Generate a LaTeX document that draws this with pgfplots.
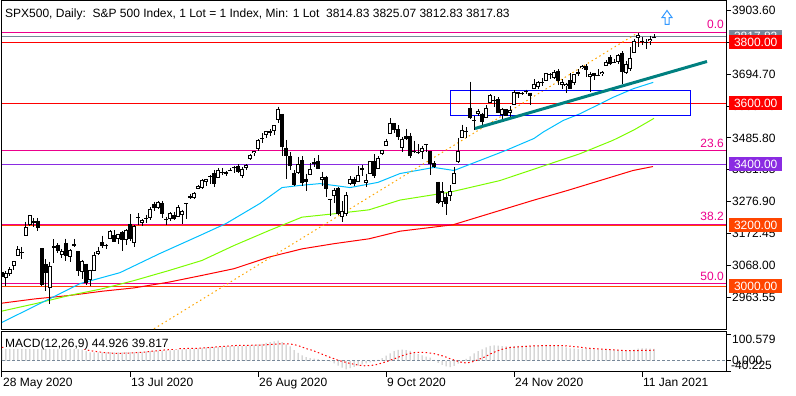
\documentclass[border=0pt]{standalone}
\usepackage{pgfplots}
\pgfplotsset{compat=1.18}
\usepackage{pgfplotstable}
\usepackage{fontspec}
\setmainfont{Liberation Sans}
\definecolor{mtgray}{RGB}{119,136,153}
\definecolor{silverbar}{RGB}{192,192,192}
\definecolor{ored}{RGB}{255,69,0}
\definecolor{bviolet}{RGB}{138,43,226}
\definecolor{dsky}{RGB}{0,191,255}
\definecolor{lgreen}{RGB}{124,252,0}
\definecolor{mteal}{RGB}{0,128,128}
\definecolor{mtorange}{RGB}{255,165,0}
\definecolor{arrowblue}{RGB}{51,153,255}

\pgfplotstableread{
i O H L C
0 3046.61 3068.67 3023.40 3029.73
1 3025.17 3049.17 2998.61 3044.31
2 3038.78 3062.18 3031.54 3055.73
3 3064.78 3081.07 3051.64 3080.82
4 3098.90 3130.94 3098.90 3122.87
5 3111.56 3128.91 3090.41 3112.35
6 3163.84 3211.72 3163.84 3193.93
7 3199.92 3233.13 3196.00 3232.39
8 3213.32 3222.71 3193.11 3207.18
9 3213.42 3223.27 3181.49 3190.14
10 3123.53 3123.53 2999.49 3002.10
11 3071.04 3088.42 2984.47 3041.31
12 2993.76 3079.76 2940.00 3066.59
13 3131.00 3153.45 3076.06 3124.74
14 3136.13 3141.16 3108.03 3113.49
15 3101.64 3120.00 3093.51 3115.34
16 3140.29 3155.53 3083.11 3097.74
17 3094.42 3120.92 3079.39 3117.86
18 3138.70 3154.90 3127.12 3131.29
19 3114.40 3115.01 3032.13 3050.33
20 3046.60 3086.25 3024.01 3083.76
21 3073.20 3073.73 3004.63 3009.05
22 3018.59 3053.89 2999.74 3053.24
23 3050.20 3111.51 3047.83 3100.29
24 3105.92 3128.44 3101.17 3115.86
25 3143.64 3165.81 3124.52 3130.01
26 3130.00 3138.00 3122.00 3134.00
27 3155.29 3182.59 3155.29 3179.72
28 3166.44 3184.15 3142.93 3145.32
29 3153.07 3171.80 3136.53 3169.94
30 3176.17 3179.78 3115.70 3152.05
31 3152.47 3186.82 3136.22 3185.04
32 3205.08 3235.32 3149.43 3155.22
33 3141.11 3200.95 3127.66 3197.52
34 3225.98 3238.28 3200.76 3226.56
35 3208.36 3220.39 3198.59 3215.57
36 3224.21 3233.52 3205.65 3224.73
37 3224.29 3258.61 3215.16 3251.84
38 3268.52 3277.29 3247.77 3257.30
39 3254.86 3279.32 3253.10 3276.02
40 3271.64 3279.99 3222.66 3235.66
41 3218.58 3227.26 3200.05 3215.63
42 3219.84 3241.43 3214.25 3239.41
43 3234.27 3243.72 3216.17 3218.44
44 3227.22 3264.74 3227.22 3258.44
45 3231.76 3250.92 3204.13 3246.22
46 3270.45 3272.17 3220.26 3271.12
47 3288.26 3302.73 3284.53 3294.61
48 3289.92 3306.84 3286.37 3306.51
49 3317.37 3330.77 3317.37 3327.77
50 3323.17 3351.03 3318.14 3349.16
51 3340.05 3352.54 3328.72 3351.28
52 3356.04 3363.29 3335.44 3360.47
53 3370.34 3381.01 3326.44 3333.69
54 3355.46 3387.89 3355.46 3380.35
55 3372.95 3387.24 3363.35 3373.43
56 3368.66 3378.51 3361.64 3372.85
57 3380.86 3387.59 3379.22 3381.99
58 3387.04 3395.06 3370.15 3389.78
59 3392.51 3399.54 3369.66 3374.85
60 3360.48 3390.80 3354.69 3385.51
61 3386.01 3399.96 3379.31 3397.16
62 3418.09 3432.09 3413.13 3431.28
63 3435.95 3444.21 3425.84 3443.62
64 3449.97 3481.07 3444.15 3478.73
65 3485.14 3501.38 3468.35 3484.55
66 3494.69 3509.23 3484.32 3508.01
67 3509.73 3514.77 3493.25 3500.31
68 3507.44 3528.03 3494.60 3526.65
69 3543.76 3588.11 3535.23 3580.84
70 3564.74 3564.85 3427.41 3455.06
71 3453.60 3479.15 3349.63 3426.96
72 3427.00 3440.00 3380.00 3395.00
73 3371.88 3379.97 3329.27 3331.84
74 3369.82 3424.77 3366.84 3398.96
75 3412.56 3425.55 3329.25 3339.19
76 3352.70 3368.95 3310.47 3340.97
77 3363.56 3402.93 3363.56 3383.54
78 3407.73 3419.48 3389.25 3401.20
79 3411.23 3428.92 3384.45 3385.49
80 3346.86 3375.17 3328.82 3357.01
81 3357.38 3362.27 3292.40 3319.47
82 3285.57 3285.57 3229.10 3281.06
83 3295.75 3320.31 3270.95 3315.57
84 3320.11 3323.35 3232.57 3236.92
85 3226.14 3278.70 3209.45 3246.59
86 3236.66 3306.88 3228.44 3298.46
87 3333.90 3360.74 3332.91 3351.60
88 3350.92 3357.92 3327.54 3335.47
89 3341.21 3393.56 3340.47 3363.00
90 3385.87 3397.18 3361.39 3380.80
91 3338.94 3369.10 3323.69 3348.42
92 3367.27 3409.57 3367.27 3408.60
93 3408.74 3431.56 3354.54 3360.97
94 3384.56 3426.26 3384.56 3419.44
95 3434.28 3447.28 3428.15 3446.83
96 3459.67 3482.34 3458.07 3477.14
97 3500.02 3549.85 3499.61 3534.22
98 3534.01 3534.01 3500.86 3511.93
99 3515.47 3527.94 3480.55 3488.67
100 3453.72 3489.08 3440.89 3483.34
101 3493.50 3515.76 3480.45 3483.81
102 3493.66 3502.42 3419.93 3426.92
103 3439.38 3476.93 3435.65 3443.12
104 3439.91 3464.86 3433.06 3435.56
105 3438.50 3460.53 3415.34 3453.49
106 3464.90 3466.46 3440.45 3465.39
107 3441.42 3441.42 3364.86 3400.97
108 3403.15 3409.51 3388.71 3390.68
109 3342.48 3342.48 3268.89 3271.03
110 3277.17 3341.05 3259.82 3310.11
111 3293.59 3304.93 3233.94 3269.96
112 3296.20 3330.14 3279.74 3310.24
113 3336.25 3389.49 3336.25 3369.16
114 3406.46 3486.25 3405.17 3443.44
115 3485.74 3529.05 3485.74 3510.45
116 3508.34 3521.58 3484.34 3509.44
117 3583.04 3670.00 3547.48 3550.50
118 3543.26 3557.22 3511.91 3545.53
119 3563.22 3581.16 3557.00 3572.66
120 3562.67 3569.02 3518.58 3537.01
121 3552.57 3593.66 3552.57 3585.15
122 3600.16 3628.51 3600.16 3626.91
123 3610.31 3623.11 3588.68 3609.53
124 3612.09 3619.09 3567.33 3567.79
125 3559.41 3585.22 3543.84 3581.87
126 3579.31 3581.23 3556.85 3557.54
127 3566.82 3589.81 3552.77 3577.59
128 3594.52 3642.31 3594.52 3635.41
129 3635.50 3635.50 3617.76 3629.65
130 3630.00 3638.00 3625.00 3634.00
131 3638.55 3644.31 3629.33 3638.35
132 3634.18 3634.18 3594.39 3621.63
133 3645.87 3678.45 3645.87 3662.45
134 3653.78 3670.96 3644.84 3669.01
135 3668.28 3682.73 3657.17 3666.72
136 3670.94 3699.20 3670.94 3699.12
137 3694.73 3697.41 3678.88 3691.96
138 3683.05 3708.45 3678.83 3702.25
139 3705.98 3712.39 3660.54 3672.82
140 3659.13 3678.49 3645.18 3668.10
141 3656.08 3665.91 3633.40 3663.46
142 3675.27 3697.61 3645.84 3647.49
143 3666.41 3695.29 3659.62 3694.62
144 3696.25 3711.27 3688.57 3701.17
145 3713.65 3725.12 3710.87 3722.48
146 3722.39 3726.70 3685.84 3709.41
147 3684.28 3702.90 3636.48 3694.92
148 3698.08 3698.26 3676.16 3687.26
149 3693.42 3711.24 3689.28 3690.01
150 3694.03 3703.82 3689.32 3703.06
151 3723.03 3740.51 3723.03 3735.36
152 3750.01 3756.12 3723.31 3727.04
153 3736.19 3744.63 3730.21 3732.04
154 3733.27 3760.20 3726.88 3756.07
155 3764.61 3769.99 3662.71 3700.65
156 3698.02 3737.83 3695.07 3726.86
157 3712.20 3783.04 3705.34 3748.14
158 3764.71 3811.55 3764.71 3803.79
159 3815.05 3830.69 3783.60 3824.68
160 3803.14 3817.86 3789.02 3799.61
161 3801.62 3810.78 3776.51 3801.19
162 3802.23 3820.96 3791.50 3809.84
163 3814.83 3825.07 3812.83 3817.83
}\candles

\pgfplotstableread{
i m s
0 42 50
1 44 50
2 47 50
3 52 50
4 58 51
5 64 53
6 75 56
7 88 61
8 97 66
9 100.6 71
10 88 74
11 80 75
12 74 75
13 70 74
14 66 72
15 62 70
16 57 67
17 53 63
18 50 59
19 45 54
20 42 48
21 36 42
22 32 38
23 32 36
24 32 34
25 32 32
26 32 30
27 33 29
28 32 28
29 32 28
30 32 28
31 33 29
32 33 29
33 33 30
34 34 31
35 34 32
36 35 33
37 36 35
38 37 37
39 38 38
40 38 40
41 38 41
42 39 42
43 40 44
44 42 45
45 43 46
46 44 46
47 45 47
48 46 47
49 47 47
50 49 48
51 50 49
52 51 50
53 51 51
54 52 53
55 53 54
56 54 55
57 55 56
58 56 57
59 56 58
60 56 58
61 57 58
62 58 58
63 60 59
64 62 59
65 64 59
66 67 60
67 70 61
68 73 62
69 76 63
70 70 64
71 62 64
72 54 63
73 40 61
74 30 57
75 20 52
76 14 46
77 10 42
78 8 37
79 6 31
80 3 25
81 1 19
82 -2 13
83 -10 8
84 -18 2
85 -26 -2
86 -32 -6
87 -28 -10
88 -23 -13
89 -18 -16
90 -13 -18
91 -10 -19
92 -6 -18
93 -3 -16
94 3 -13
95 10 -8
96 19 -4
97 28 2
98 36 7
99 41 13
100 42 19
101 40 24
102 37 28
103 31 31
104 25 32
105 20 32
106 16 31
107 12 29
108 3 27
109 -8 23
110 -15 19
111 -21 14
112 -24 8
113 -19 3
114 -11 -2
115 -2 -6
116 7 -8
117 17 -6
118 28 -2
119 36 4
120 43 10
121 50 17
122 56 25
123 58 32
124 57 38
125 55 43
126 54 47
127 53 50
128 55 51
129 56 52
130 57 53
131 57 54
132 56 55
133 57 56
134 58 56
135 59 57
136 60 57
137 60 57
138 59 57
139 57 57
140 54 57
141 50 56
142 47 55
143 46 53
144 45 52
145 45 50
146 45 48
147 44 47
148 43 46
149 43 45
150 42 44
151 42 43
152 42 42
153 41 41
154 41 40
155 38 39
156 37 38
157 38 38
158 42 38
159 46 38
160 47 39
161 47 39
162 46 39.5
163 44.926 39.817
}\macd

\begin{document}
\begin{tikzpicture}[x=1pt,y=1pt,font=\fontsize{12}{14}\selectfont]
\path (0,0) rectangle (796,-395);
\begin{axis}[
  name=main, scale only axis, width=724pt, height=329pt,
  at={(2pt,0pt)}, anchor=north west,
  xmin=0, xmax=181, ymin=2857.6, ymax=3936.4,
  xtick=\empty,
  ytick={2963.55,3068.00,3172.45,3276.90,3381.35,3485.80,3590.25,3694.70,3799.15,3903.60},
  scaled y ticks=false,
  ytick pos=right, yticklabel pos=right, tick align=outside, major tick length=5pt,
  every tick/.style={black, line width=1pt},
  axis line style={line width=1pt},
  yticklabel style={anchor=west, inner sep=0pt, xshift=1pt,
    /pgf/number format/.cd, fixed, fixed zerofill, precision=2, assume math mode=true, 1000 sep={}},
]
% horizontal levels
\addplot[red, line width=1pt] coordinates {(0,3800) (181,3800)};
\addplot[red, line width=1pt] coordinates {(0,3600) (181,3600)};
\addplot[bviolet, line width=1pt] coordinates {(0,3400) (181,3400)};
\addplot[ored, line width=1pt] coordinates {(0,3200) (181,3200)};
\addplot[ored, line width=1pt] coordinates {(0,3000) (181,3000)};
\addplot[mtgray, line width=1pt] coordinates {(0,3818.5) (181,3818.5)};
% fibonacci levels
\addplot[magenta, line width=1pt] coordinates {(0,3832.5) (181,3832.5)};
\addplot[magenta, line width=1pt] coordinates {(0,3443) (181,3443)};
\addplot[magenta, line width=1.3pt] coordinates {(0,3202.5) (181,3202.5)};
\addplot[magenta, line width=1pt] coordinates {(0,3007.5) (181,3007.5)};
% moving averages
\addplot[red, line width=1pt] coordinates {(0,2944) (8.25,2958) (16.75,2969) (25,2983) (33,2994) (41.75,3013) (50,3035) (58,3057) (66.75,3095) (75,3122) (83,3139) (91.75,3155) (99.5,3180) (112.75,3201) (116.25,3215) (132.75,3281) (141.25,3313) (149.5,3346) (157.75,3379) (162.75,3392)};
\addplot[lgreen, line width=1pt] coordinates {(0,2918) (8.25,2942) (16.75,2969) (25,2991) (33,3018) (41.75,3051) (50,3084) (58,3133) (66.75,3182) (75,3226) (83,3237) (91.75,3250) (99.5,3282) (112,3308) (124.5,3346) (134.5,3390) (144.5,3434) (152.75,3478) (158,3512) (163,3550)};
\addplot[dsky, line width=1pt] coordinates {(0,2881) (12,2959) (19.5,3008) (29.5,3044) (39.5,3107) (49.5,3166) (56,3205) (64.5,3271) (70,3323) (74.5,3330) (79.5,3336) (83,3330) (87,3323) (94,3340) (99.5,3369) (108,3389) (113,3379) (119.5,3412) (126,3445) (133,3484) (135.3,3505) (140.3,3543) (144.5,3565) (152.8,3619) (157.8,3647) (162.8,3668)};
% fibonacci trend line
\addplot[mtorange, line width=1pt, dash pattern=on 1.5pt off 3pt] coordinates {(38,2860) (159,3831)};
% rectangle
\addplot[blue, line width=1pt] coordinates {(112,3558.3) (172.2,3558.3) (172.2,3641.3) (112,3641.3) (112,3558.3)};
% candles: wicks
\addplot[draw=none, mark=none, forget plot,
  error bars/.cd, y dir=both, y explicit, error mark=none,
  error bar style={draw=black, solid, line width=1pt}]
  table[x=i, y=H, y error plus expr=0, y error minus expr={\thisrow{H}-\thisrow{L}}] {\candles};
% bodies (black)
\addplot[draw=none, mark=none, forget plot,
  error bars/.cd, y dir=both, y explicit, error mark=none,
  error bar style={draw=black, solid, line width=3.2pt}]
  table[x=i, y expr={max(\thisrow{O},\thisrow{C})}, y error plus expr=0,
        y error minus expr={max(abs(\thisrow{C}-\thisrow{O}),3.3)}] {\candles};
% bull bodies white inside
\addplot[draw=none, mark=none, forget plot,
  restrict expr to domain={\thisrow{C}-\thisrow{O}}{6.7:100000},
  error bars/.cd, y dir=both, y explicit, error mark=none,
  error bar style={draw=white, solid, line width=1.2pt}]
  table[x=i, y expr={\thisrow{C}-3.3}, y error plus expr=0,
        y error minus expr={\thisrow{C}-\thisrow{O}-6.6}] {\candles};
% teal trend line
\addplot[mteal, line width=3pt] coordinates {(118.25,3516.7) (176.25,3736.4)};
% up arrow
\draw[arrowblue, fill=white, line width=1pt, line join=miter]
  (axis cs:166.25,3903.6) -- (axis cs:167.5,3880.6) -- (axis cs:166.75,3880.6) -- (axis cs:166.75,3858)
  -- (axis cs:165.75,3858) -- (axis cs:165.75,3880.6) -- (axis cs:165,3880.6) -- cycle;
% fib labels
\node[anchor=base east, inner sep=0pt, text=magenta] at (axis cs:181,3832.5) [xshift=-2pt, yshift=4pt] {0.0};
\node[anchor=base east, inner sep=0pt, text=magenta] at (axis cs:181,3443) [xshift=-2pt, yshift=3.5pt] {23.6};
\node[anchor=base east, inner sep=0pt, text=magenta] at (axis cs:181,3202.5) [xshift=-2pt, yshift=3.5pt] {38.2};
\node[anchor=base east, inner sep=0pt, text=magenta] at (axis cs:181,3007.5) [xshift=-2pt, yshift=3.5pt] {50.0};
\coordinate (r3818) at (axis cs:181,3818.5);
\coordinate (r3800) at (axis cs:181,3800);
\coordinate (r3600) at (axis cs:181,3600);
\coordinate (r3400) at (axis cs:181,3400);
\coordinate (r3200) at (axis cs:181,3200);
\coordinate (r3000) at (axis cs:181,3000);
\end{axis}

\tikzset{pbox/.style={anchor=west, inner sep=0pt, minimum width=53pt, minimum height=13.3pt, text=white, xshift=3pt}}
\node[pbox, fill=mtgray] at (r3818) {3817.83};
\node[pbox, fill=red] at (r3800) {3800.00};
\node[pbox, fill=red] at (r3600) {3600.00};
\node[pbox, fill=bviolet] at (r3400) {3400.00};
\node[pbox, fill=ored] at (r3200) {3200.00};
\node[pbox, fill=ored] at (r3000) {3000.00};

\node[anchor=base west, inner sep=0pt] at (5,-16.7) {SPX500, Daily:\ \ S\&P 500 Index, 1 Lot = 1 Index, Min: 1 Lot\ \ 3814.83 3825.07 3812.83 3817.83};

\begin{axis}[
  name=macd, scale only axis, width=724pt, height=40pt,
  at={(2pt,-331pt)}, anchor=north west,
  xmin=0, xmax=181, ymin=-40.225, ymax=110.1,
  xtick={0,32,64,96,128,160},
  xticklabels={28 May 2020,13 Jul 2020,26 Aug 2020,9 Oct 2020,24 Nov 2020,11 Jan 2021},
  xtick pos=bottom, ytick pos=right,
  ytick={-40.225,0,100.579}, yticklabels={},
  tick align=outside, major tick length=5pt,
  every tick/.style={black, line width=1pt},
  axis line style={line width=1pt},
  xticklabel style={anchor=north west, inner sep=0pt, xshift=1pt, yshift=-1pt},
]
\addplot[ybar, bar width=1pt, fill=silverbar, draw=none] table[x=i, y=m] {\macd};
\addplot[mtgray, line width=1pt, dash pattern=on 3pt off 2pt] coordinates {(0,0) (181,0)};
\addplot[red, line width=1pt, dash pattern=on 1.5pt off 2.5pt] table[x=i, y=s] {\macd};
\coordinate (m100) at (axis cs:181,100.579);
\coordinate (m0) at (axis cs:181,0);
\coordinate (m40) at (axis cs:181,-40.225);
\end{axis}
\fill[white] (4,-332.2) rectangle (178,-348.5);
\node[anchor=base west, inner sep=0pt] at (5,-347.3) {MACD(12,26,9) 44.926 39.817};
\node[anchor=west, inner sep=0pt, xshift=6pt, yshift=-4.9pt] at (m100) {100.579};
\node[anchor=west, inner sep=0pt, xshift=6pt, yshift=0.8pt] at (m0) {0.000};
\node[anchor=west, inner sep=0pt, xshift=5pt, yshift=6.5pt] at (m40) {-40.225};
\end{tikzpicture}
\end{document}
